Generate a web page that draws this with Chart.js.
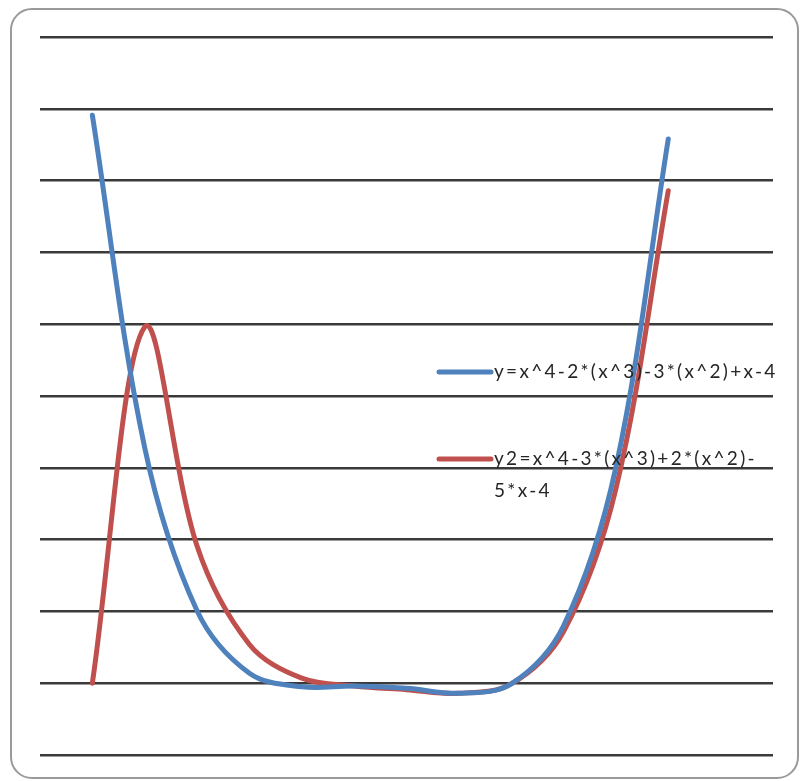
<!DOCTYPE html>
<html>
<head>
<meta charset="utf-8">
<script src="https://cdn.jsdelivr.net/npm/chart.js@4.4.1/dist/chart.umd.min.js"></script>
<style>
  html, body { margin: 0; padding: 0; background: #ffffff; }
  #wrap { position: relative; width: 808px; height: 781px; overflow: hidden; }
  #frame {
    position: absolute; left: 10px; top: 8px; width: 785px; height: 767px;
    border: 2px solid #9a9a9a; border-radius: 22px; pointer-events: none;
  }
  canvas { position: absolute; left: 0; top: 0; }
</style>
</head>
<body>
<div id="wrap">
  <canvas id="c" width="808" height="781"></canvas>
  <div id="frame"></div>
</div>
<script>
// ---- data ----
const xValues = [-5, -4, -3, -2, -1, 0, 1, 2, 3, 4, 5, 6];
const seriesY = [791, 328, 101, 14, -5, -4, -7, -14, -1, 80, 301, 758];
const seriesY2 = [0, 496, 191, 54, 7, -4, -9, -14, -1, 72, 271, 686];
const seriesNames = ['y=x^4-2*(x^3)-3*(x^2)+x-4', 'y2=x^4-3*(x^3)+2*(x^2)-5*x-4'];
const yTicks = [-100, 0, 100, 200, 300, 400, 500, 600, 700, 800, 900];

const toPoints = (ys) => xValues.map((x, i) => ({ x: x, y: ys[i] }));

const legendPlugin = {
  id: 'overlayLegend',
  afterDatasetsDraw(chart, args, opts) {
    const ctx = chart.ctx;
    ctx.save();
    ctx.font = opts.font;
    if ('letterSpacing' in ctx) ctx.letterSpacing = opts.letterSpacing;
    ctx.fillStyle = opts.color;
    ctx.textBaseline = 'middle';
    let y = opts.top;
    chart.data.datasets.forEach((ds) => {
      ctx.beginPath();
      ctx.strokeStyle = ds.borderColor;
      ctx.lineWidth = opts.swatchWidth;
      ctx.lineCap = 'round';
      ctx.moveTo(opts.left + 2, y);
      ctx.lineTo(opts.left + opts.swatchLen - 2, y);
      ctx.stroke();
      const tx = opts.left + opts.swatchLen + opts.gap;
      const lines = [];
      let rest = ds.label;
      while (ctx.measureText(rest).width > opts.maxWidth) {
        let cut = -1;
        for (let i = 0; i < rest.length - 1; i++) {
          if (rest[i] === '-' && ctx.measureText(rest.slice(0, i + 1)).width <= opts.maxWidth) cut = i + 1;
        }
        if (cut <= 0) break;
        lines.push(rest.slice(0, cut));
        rest = rest.slice(cut);
      }
      lines.push(rest);
      lines.forEach((ln, k) => ctx.fillText(ln, tx, y + k * opts.lineHeight));
      y += opts.itemSpacing;
    });
    ctx.restore();
  }
};

new Chart(document.getElementById('c'), {
  type: 'line',
  data: {
    datasets: [
      { label: seriesNames[0], data: toPoints(seriesY), borderColor: '#4F81BD' },
      { label: seriesNames[1], data: toPoints(seriesY2), borderColor: '#C0504D' }
    ]
  },
  options: {
    responsive: false,
    animation: false,
    layout: { padding: { left: 40, right: 35, top: 37, bottom: 26 } },
    elements: {
      line: { borderWidth: 5, tension: 0.35, borderCapStyle: 'round', borderJoinStyle: 'round', fill: false },
      point: { radius: 0, hoverRadius: 0 }
    },
    scales: {
      x: { type: 'linear', min: -6, max: 8, display: false },
      y: {
        type: 'linear', min: yTicks[0], max: yTicks[yTicks.length - 1],
        afterBuildTicks: (axis) => { axis.ticks = yTicks.map(v => ({ value: v })); },
        ticks: { display: false },
        border: { display: false },
        grid: { color: '#3a3a3a', lineWidth: 2.5, drawTicks: false }
      }
    },
    plugins: {
      legend: { display: false },
      tooltip: { enabled: false },
      overlayLegend: {
        left: 437, top: 372, swatchLen: 56, swatchWidth: 5, gap: 1,
        itemSpacing: 87, lineHeight: 32, maxWidth: 300,
        font: '19px Lato', letterSpacing: '2.3px', color: '#262626'
      }
    }
  },
  plugins: [legendPlugin]
});
</script>
</body>
</html>
